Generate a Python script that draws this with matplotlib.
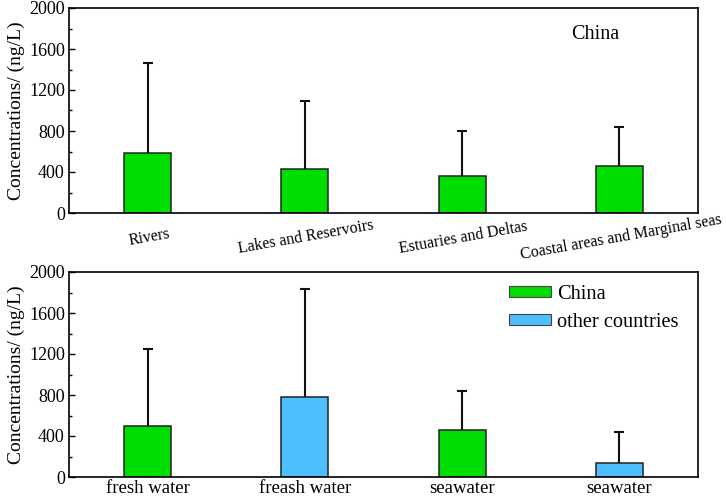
import matplotlib

matplotlib.use("Agg")
import matplotlib.pyplot as plt
from matplotlib.patches import Patch
from matplotlib.ticker import MultipleLocator

plt.rcParams["font.family"] = ["Liberation Serif", "DejaVu Serif"]

GREEN = "#00DD00"
BLUE = "#4DBEFF"

# top panel: China, by water body
top_labels = ["Rivers", "Lakes and Reservoirs", "Estuaries and Deltas",
              "Coastal areas and Marginal seas"]
top_means = [587, 425, 363, 454]
top_err = [875, 671, 434, 382]

# bottom panel: China vs other countries
bottom_labels = ["fresh water", "freash water", "seawater", "seawater"]
bottom_means = [500, 779, 458, 133]
bottom_err = [747, 1055, 380, 302]
bottom_group = ["China", "other countries", "China", "other countries"]
group_colors = {"China": GREEN, "other countries": BLUE}


def style_axis(ax):
    ax.set_xlim(0.5, 4.5)
    ax.set_ylim(0, 2000)
    ax.yaxis.set_major_locator(MultipleLocator(400))
    ax.yaxis.set_minor_locator(MultipleLocator(200))
    ax.tick_params(axis="both", which="both", direction="in", labelsize=13)
    ax.tick_params(axis="y", which="major", length=4, width=1, pad=3)
    ax.tick_params(axis="y", which="minor", length=2.5, width=1)
    ax.tick_params(axis="x", which="major", length=3, width=1)
    for sp in ax.spines.values():
        sp.set_linewidth(1.2)
    ax.set_ylabel("Concentrations/ (ng/L)", fontsize=14, labelpad=3)


def draw_bars(ax, means, errs, colors):
    x = range(1, len(means) + 1)
    ax.bar(x, means, width=0.3, color=colors, edgecolor="#222222",
           linewidth=1.1, zorder=2)
    _, caps, _ = ax.errorbar(x, means, yerr=[[0] * len(errs), errs],
                             fmt="none", ecolor="#111111", elinewidth=1.5,
                             capsize=3.6, capthick=1.5, zorder=3)
    caps[0].set_visible(False)  # only the upper cap, like the original
    return list(x)


fig = plt.figure(figsize=(7.26, 4.96), dpi=100)
ax1 = fig.add_axes([69 / 726, 1 - 213 / 496, 629 / 726, 205 / 496])
ax2 = fig.add_axes([69 / 726, 1 - 477 / 496, 629 / 726, 205 / 496])

x = draw_bars(ax1, top_means, top_err, GREEN)
style_axis(ax1)
ax1.set_xticks(x)
ax1.set_xticklabels(top_labels, rotation=10, fontsize=11.5,
                    rotation_mode="anchor", ha="center", va="top")
ax1.tick_params(axis="x", pad=12)
ax1.text(0.836, 0.87, "China", transform=ax1.transAxes, fontsize=14.5,
         ha="center", va="center")

colors = [group_colors[g] for g in bottom_group]
x = draw_bars(ax2, bottom_means, bottom_err, colors)
style_axis(ax2)
ax2.set_xticks(x)
ax2.set_xticklabels(bottom_labels, fontsize=13.5)
ax2.tick_params(axis="x", pad=2)

handles = [Patch(facecolor=group_colors[g], edgecolor="#444444", linewidth=0.8,
                 label=g) for g in ["China", "other countries"]]
ax2.legend(handles=handles, loc="upper left", bbox_to_anchor=(0.70, 0.936),
           frameon=False, fontsize=14.7, handlelength=2.05, handleheight=0.44,
           handletextpad=0.3, labelspacing=0.42, borderpad=0,
           borderaxespad=0)

fig.savefig("out.png", dpi=100)
